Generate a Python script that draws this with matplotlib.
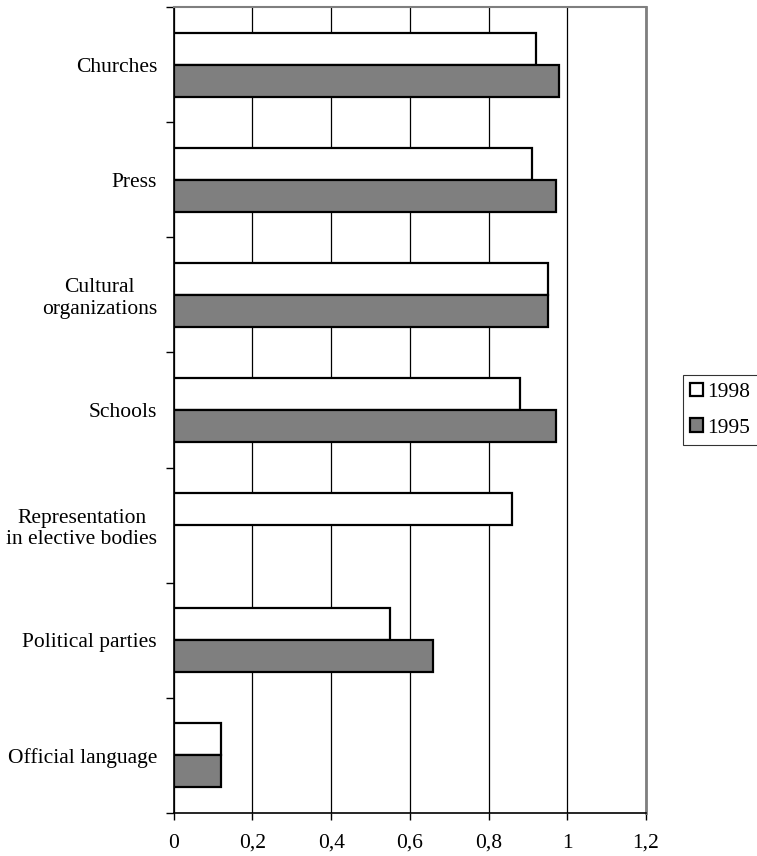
import numpy as np
import matplotlib.pyplot as plt
import matplotlib

plt.rcParams['font.family'] = ['Liberation Serif', 'DejaVu Serif']

# data, top to bottom
categories = ["Churches", "Press", "Cultural\norganizations", "Schools",
              "Representation\nin elective bodies", "Political parties",
              "Official language"]
values_1998 = [0.92, 0.91, 0.95, 0.88, 0.86, 0.55, 0.12]
values_1995 = [0.98, 0.97, 0.95, 0.97, 0.0, 0.66, 0.12]
xtick_values = [0, 0.2, 0.4, 0.6, 0.8, 1.0, 1.2]
xtick_labels = ["0", "0,2", "0,4", "0,6", "0,8", "1", "1,2"]

bar_h = 0.28
gray = '#7f7f7f'
fs = 15.5

fig = plt.figure(figsize=(7.57, 8.56), dpi=100)
ax = fig.add_axes([0.2295, 0.0506, 0.6239, 0.9409])

pos = np.arange(len(categories))
ax.barh(pos - bar_h / 2, values_1998, height=bar_h, color='white',
        edgecolor='black', linewidth=1.6, label='1998', zorder=3)
v95 = np.array(values_1995)
ax.barh(pos[v95 > 0] + bar_h / 2, v95[v95 > 0], height=bar_h, color=gray,
        edgecolor='black', linewidth=1.6, label='1995', zorder=3)

ax.set_xlim(0, 1.2)
ax.set_ylim(len(categories) - 0.5, -0.5)

ax.set_xticks(xtick_values)
ax.set_xticklabels(xtick_labels, fontsize=fs)
ax.tick_params(axis='x', length=5, width=1, pad=10, direction='out')

# boundaries get tick marks, centers get labels
ax.set_yticks(np.arange(-0.5, len(categories), 1.0))
ax.set_yticklabels([])
ax.set_yticks(pos, minor=True)
ax.set_yticklabels(categories, minor=True, fontsize=fs, multialignment='center')
ax.tick_params(axis='y', which='major', length=6, width=1, direction='out')
ax.tick_params(axis='y', which='minor', length=0, pad=12)

ax.grid(axis='x', color='black', linewidth=0.9, zorder=0)
ax.set_axisbelow(True)

ax.spines['left'].set_color('black')
ax.spines['left'].set_linewidth(1.2)
ax.spines['bottom'].set_color('black')
ax.spines['bottom'].set_linewidth(1.2)
ax.spines['top'].set_color(gray)
ax.spines['top'].set_linewidth(1.5)
ax.spines['right'].set_color(gray)
ax.spines['right'].set_linewidth(2)

leg = fig.legend(loc='center left', bbox_to_anchor=(0.902, 0.521),
                 fontsize=fs, frameon=True, fancybox=False, edgecolor='black',
                 handlelength=0.6, handleheight=0.6, handletextpad=0.2,
                 borderpad=0.35, labelspacing=0.75, borderaxespad=0)
leg.get_frame().set_linewidth(0.8)

fig.savefig('out.png', dpi=100)
